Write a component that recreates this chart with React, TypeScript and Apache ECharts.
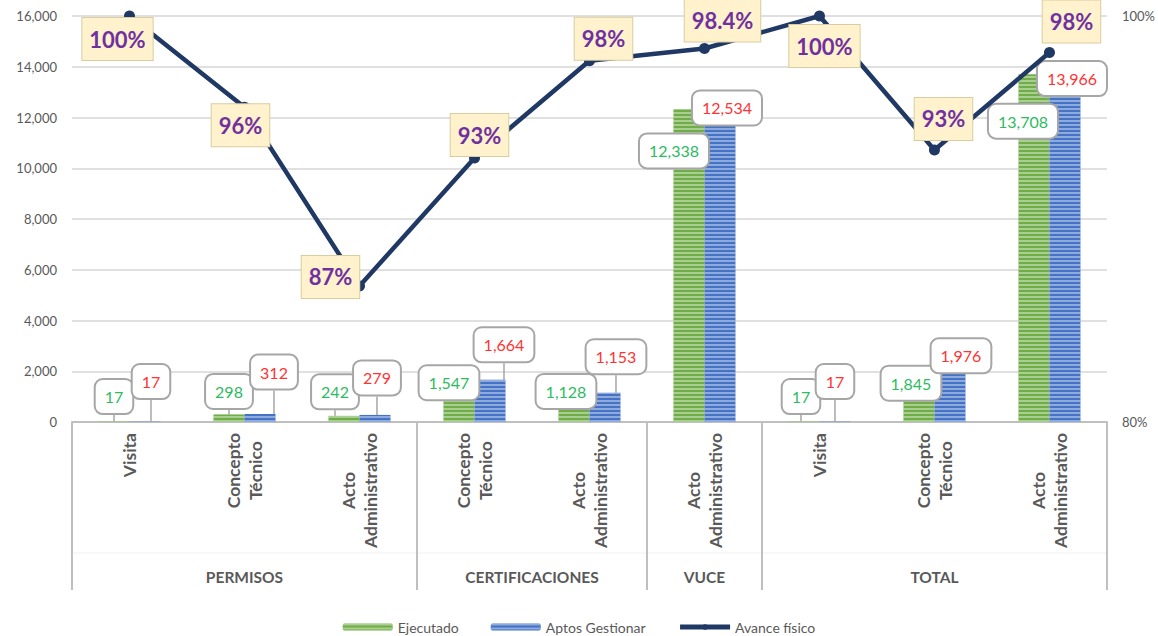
import React, { useEffect, useRef } from 'react';
import * as echarts from 'echarts';

const categories = [
  'Visita',
  'Concepto\nTécnico',
  'Acto\nAdministrativo',
  'Concepto\nTécnico',
  'Acto\nAdministrativo',
  'Acto\nAdministrativo',
  'Visita',
  'Concepto\nTécnico',
  'Acto\nAdministrativo',
];
const groups = ['PERMISOS', 'CERTIFICACIONES', 'VUCE', 'TOTAL'];
const groupSpans = [3, 2, 1, 3];

const ejecutado = [17, 298, 242, 1547, 1128, 12338, 17, 1845, 13708];
const aptos = [17, 312, 279, 1664, 1153, 12534, 17, 1976, 13966];
const avance = [100, 95.5, 86.7, 93.0, 97.8, 98.4, 100, 93.4, 98.2];
const avanceLabels = ['100%', '96%', '87%', '93%', '98%', '98.4%', '100%', '93%', '98%'];

// label displacement (label centre relative to its anchor)
const ejecutadoShift = [[0, -25], [0, -23], [-9, -24], [-10, 0], [-8, -2], [-15, 42], [-3, -25], [-8, 8], [-11, 47]];
const aptosShift = [[6, -40], [14, -42], [2, -37], [14, -35], [11, -36], [7, 4], [0, -40], [11, -16], [7, 11]];
const avanceShift = [[-12, 23], [-4, 18], [-29, -9], [5, -23], [14, -22], [18, -28], [5, 30], [9, -31], [22, -31]];

const FONT = 'Lato, "Noto Sans", sans-serif';
const GRAY = '#595959';

export default function App() {
  const ref = useRef<HTMLDivElement>(null);
  useEffect(() => {
    const chart = echarts.init(ref.current as HTMLDivElement, null, { renderer: 'svg' });

    const barLabel = (color: string) => ({
      show: true,
      position: 'top',
      distance: 0,
      align: 'center',
      verticalAlign: 'middle',
      color,
      fontSize: 16,
      fontFamily: FONT,
      backgroundColor: '#ffffff',
      borderColor: '#a6a6a6',
      borderWidth: 2,
      borderRadius: 7,
      padding: [9, 9, 8, 9],
      formatter: (p: any) => Number(p.value).toLocaleString('en-US'),
    });

    const option: any = {
      animation: false,
      textStyle: { fontFamily: FONT },
      grid: { left: 72, right: 48, top: 16, bottom: 214, containLabel: false },
      legend: {
        top: 615,
        left: 'center',
        itemWidth: 50,
        itemHeight: 7,
        itemGap: 32,
        textStyle: { color: GRAY, fontSize: 14, fontFamily: FONT },
        data: [
          { name: 'Ejecutado' },
          { name: 'Aptos Gestionar' },
          { name: 'Avance físico', lineStyle: { width: 5 } },
        ],
      },
      xAxis: {
        type: 'category',
        data: categories,
        axisLine: { lineStyle: { color: '#bfbfbf', width: 2 } },
        axisTick: { show: false },
        axisLabel: {
          interval: 0,
          rotate: 90,
          margin: 11,
          formatter: (v: string) => v.split('\n').map((s) => `{c|${s}}`).join('\n'),
          rich: {
            c: { align: 'center', fontWeight: 'bold', fontSize: 17.5, color: GRAY, fontFamily: FONT, lineHeight: 22 },
          },
        },
      },
      yAxis: [
        {
          type: 'value',
          min: 0,
          max: 16000,
          interval: 2000,
          axisLine: { show: false },
          axisTick: { show: false },
          axisLabel: {
            color: GRAY,
            fontSize: 13,
            margin: 15,
            fontFamily: FONT,
            formatter: (v: number) => v.toLocaleString('en-US'),
          },
          splitLine: { lineStyle: { color: '#d6d6d6', width: 1.5 } },
        },
        {
          type: 'value',
          min: 80,
          max: 100,
          interval: 20,
          position: 'right',
          axisLine: { show: false },
          axisTick: { show: false },
          axisLabel: { color: GRAY, fontSize: 13, margin: 15, fontFamily: FONT, formatter: '{value}%' },
          splitLine: { show: false },
        },
      ],
      series: [
        {
          name: 'Ejecutado',
          type: 'bar',
          data: ejecutado,
          barWidth: 31,
          barGap: '0%',
          itemStyle: {
            color: '#70ad47',
            decal: {
              symbol: 'rect',
              symbolSize: 1,
              dashArrayX: [1, 0],
              dashArrayY: [1.5, 1.5],
              color: 'rgba(255,255,255,0.4)',
            },
          },
          label: barLabel('#2dbb5f'),
          labelLine: { show: true, lineStyle: { color: '#a6a6a6', width: 1.5 } },
          labelLayout: (p: any) => ({ dx: ejecutadoShift[p.dataIndex][0], dy: ejecutadoShift[p.dataIndex][1] }),
          z: 2,
        },
        {
          name: 'Aptos Gestionar',
          type: 'bar',
          data: aptos,
          barWidth: 31,
          barGap: '0%',
          itemStyle: {
            color: '#4472c4',
            decal: {
              symbol: 'rect',
              symbolSize: 1,
              dashArrayX: [1, 0],
              dashArrayY: [1.5, 1.5],
              color: 'rgba(255,255,255,0.4)',
            },
          },
          label: barLabel('#ff3333'),
          labelLine: { show: true, lineStyle: { color: '#a6a6a6', width: 1.5 } },
          labelLayout: (p: any) => ({ dx: aptosShift[p.dataIndex][0], dy: aptosShift[p.dataIndex][1] }),
          z: 2,
        },
        {
          name: 'Avance físico',
          type: 'line',
          yAxisIndex: 1,
          data: avance,
          symbol: 'circle',
          symbolSize: 11,
          lineStyle: { color: '#203864', width: 4.5 },
          itemStyle: { color: '#203864' },
          z: 5,
          label: {
            show: true,
            position: 'inside',
            align: 'center',
            verticalAlign: 'middle',
            color: '#7030a0',
            fontWeight: 'bold',
            fontSize: 22,
            fontFamily: FONT,
            backgroundColor: '#fff2cc',
            borderColor: '#d9cca0',
            borderWidth: 1,
            padding: [11, 7, 9, 7],
            formatter: (p: any) => avanceLabels[p.dataIndex],
          },
          labelLine: { show: false },
          labelLayout: (p: any) => ({ dx: avanceShift[p.dataIndex][0], dy: avanceShift[p.dataIndex][1] }),
        },
      ],
    };

    chart.setOption(option);

    // multi-level axis: group separators & group labels, from the axis scale
    const c0 = chart.convertToPixel({ xAxisIndex: 0 }, 0) as number;
    const c1 = chart.convertToPixel({ xAxisIndex: 0 }, 1) as number;
    const bw = c1 - c0;
    const left = c0 - bw / 2;
    const yBase = chart.convertToPixel({ yAxisIndex: 0 }, 0) as number;
    const right = left + bw * categories.length;

    const graphics: any[] = [
      {
        type: 'line',
        shape: { x1: left, y1: yBase + 131, x2: right, y2: yBase + 131 },
        style: { stroke: '#f0f0f0', lineWidth: 1 },
        silent: true,
      },
    ];
    let start = 0;
    const bounds = [0];
    groupSpans.forEach((span, gi) => {
      const end = start + span;
      bounds.push(end);
      graphics.push({
        type: 'text',
        x: left + bw * (start + end) / 2,
        y: yBase + 155,
        style: {
          text: groups[gi],
          fill: GRAY,
          fontSize: 15.5,
          fontWeight: 'bold',
          fontFamily: FONT,
          align: 'center',
          verticalAlign: 'middle',
        },
        silent: true,
      });
      start = end;
    });
    bounds.forEach((b) => {
      graphics.push({
        type: 'line',
        shape: { x1: left + bw * b, y1: yBase, x2: left + bw * b, y2: yBase + 168 },
        style: { stroke: '#bfbfbf', lineWidth: 2 },
        silent: true,
      });
    });
    chart.setOption({ graphic: graphics });

    return () => chart.dispose();
  }, []);

  return (
    <div
      ref={ref}
      style={{ position: 'fixed', left: 0, top: 0, width: 1158, height: 636, background: '#ffffff' }}
    />
  );
}
